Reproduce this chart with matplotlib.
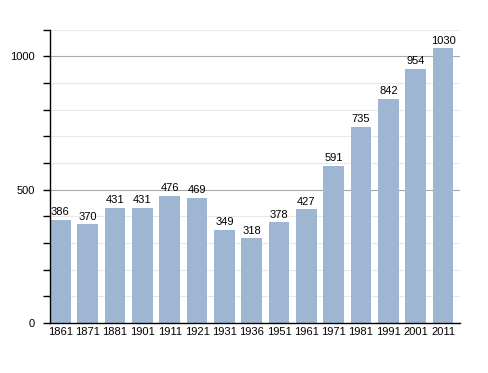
import matplotlib.pyplot as plt
import numpy as np

plt.rcParams['font.family'] = ['Liberation Sans', 'DejaVu Sans']

years = ['1861', '1871', '1881', '1901', '1911', '1921', '1931', '1936',
         '1951', '1961', '1971', '1981', '1991', '2001', '2011']
population = [386, 370, 431, 431, 476, 469, 349, 318, 378, 427, 591, 735, 842, 954, 1030]

fig = plt.figure(figsize=(4.88, 3.73), dpi=100)
ax = fig.add_axes([0.1025, 0.134, 0.84, 0.786])

x = np.arange(len(years))
bar_w = 0.76
ax.bar(x, population, width=bar_w, align='edge', color='#9fb6d3', zorder=2)

for xi, v in zip(x, population):
    ax.text(xi + bar_w / 2, v + 10, str(v), ha='center', va='bottom', fontsize=8, zorder=3)

ax.set_xlim(0, len(years))
ax.set_ylim(0, 1100)
ax.set_xticks(x + bar_w / 2)
ax.set_xticklabels(years, fontsize=8)
ax.tick_params(axis='x', length=0, pad=3)

ax.set_yticks([0, 500, 1000])
ax.set_yticklabels(['0', '500', '1000'], fontsize=8)
ax.set_yticks(np.arange(0, 1101, 100), minor=True)
ax.tick_params(axis='y', which='both', direction='out', length=5, width=1, pad=6)
ax.grid(axis='y', which='minor', color='#e8e8e8', linewidth=0.8, zorder=0)
ax.grid(axis='y', which='major', color='#aaaaaa', linewidth=0.8, zorder=1)

for s in ['top', 'right']:
    ax.spines[s].set_visible(False)
ax.spines['left'].set_linewidth(1)
ax.spines['bottom'].set_linewidth(1)

plt.savefig('out.png', dpi=100)
